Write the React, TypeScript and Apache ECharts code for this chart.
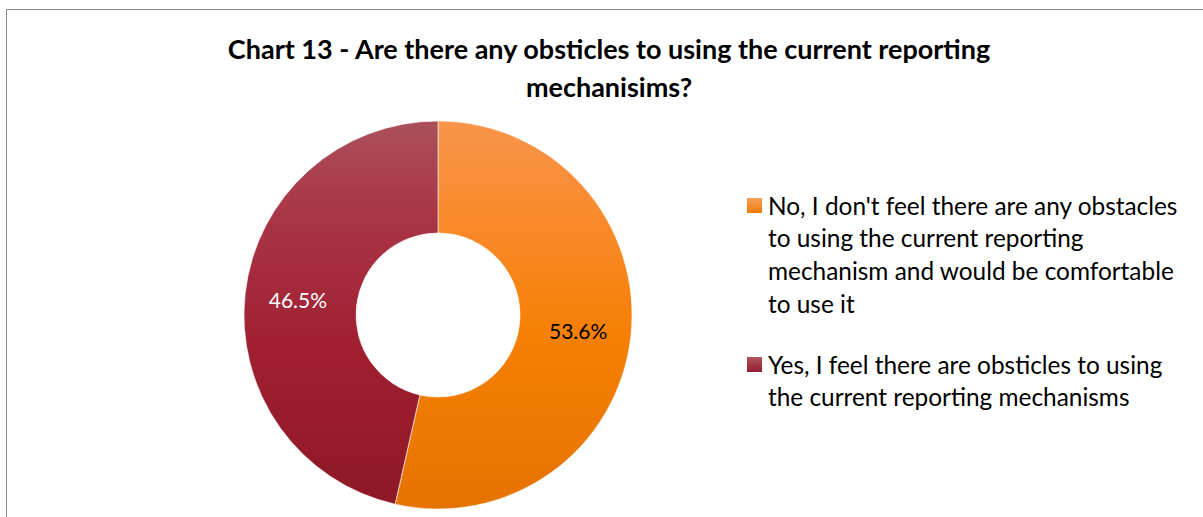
import React, { useEffect, useRef } from "react";
import * as echarts from "echarts";

const titleText = "Chart 13 - Are there any obsticles to using the current reporting\nmechanisims?";
const categories = [
  "No, I don't feel there are any obstacles to using the current reporting mechanism and would be comfortable to use it",
  "Yes, I feel there are obsticles to using the current reporting mechanisms",
];
const legendLines = [
  ["No, I don't feel there are any obstacles", "to using the current reporting", "mechanism and would be comfortable", "to use it"],
  ["Yes, I feel there are obsticles to using", "the current reporting mechanisms"],
];
const values = [53.6, 46.5];
const gradientStops = [
  [[0, "#F8944A"], [0.25, "#F88A2C"], [0.55, "#F68004"], [1, "#E67200"]],
  [[0, "#AA505A"], [0.25, "#A93546"], [0.6, "#A01F30"], [1, "#8E1826"]],
];
const labelColors = ["#000000", "#ffffff"];
const markerColors = [
  ["#F7A05A", "#F07B0A"],
  ["#B05560", "#951F2C"],
];

export default function App() {
  const ref = useRef<HTMLDivElement>(null);
  useEffect(() => {
    if (!ref.current) return;
    const chart = echarts.init(ref.current, undefined, { renderer: "svg" });
    const font = "Lato, 'Open Sans', sans-serif";
    const graphics: any[] = [
      {
        type: "rect",
        shape: { x: 6.5, y: 9.5, width: 1300, height: 600 },
        style: { fill: "none", stroke: "#8a8a8a", lineWidth: 1 },
        silent: true,
        z: -10,
      },
    ];
    const firstLineCenters = [205, 364];
    const lineH = 32.7;
    legendLines.forEach((lines, i) => {
      graphics.push({
        type: "rect",
        shape: { x: 747, y: firstLineCenters[i] - 7, width: 15, height: 15 },
        style: {
          fill: new echarts.graphic.LinearGradient(0, 0, 0, 1, [
            { offset: 0, color: markerColors[i][0] },
            { offset: 1, color: markerColors[i][1] },
          ]),
        },
      });
      lines.forEach((ln, j) => {
        graphics.push({
          type: "text",
          x: 768,
          y: firstLineCenters[i] + j * lineH,
          style: {
            text: ln,
            font: `24.4px ${font}`,
            fill: "#000",
            textVerticalAlign: "middle",
            textAlign: "left",
          },
        });
      });
    });
    chart.setOption({
      animation: false,
      title: {
        text: titleText,
        left: 609,
        top: 29,
        padding: 0,
        textAlign: "center",
        textStyle: { fontFamily: font, fontSize: 27, fontWeight: "bold", color: "#000", lineHeight: 38 },
      },
      graphic: graphics,
      series: [
        {
          type: "pie",
          center: [438, 315],
          radius: [82, 194],
          startAngle: 90,
          clockwise: true,
          label: {
            show: true,
            position: "inside",
            formatter: (p: any) => `${p.value.toFixed(1)}%`,
            fontFamily: font,
            fontSize: 21,
          },
          labelLine: { show: false },
          itemStyle: { borderColor: "#ffffff", borderWidth: 0.6 },
          data: categories.map((c, i) => ({
            name: c,
            value: values[i],
            label: { color: labelColors[i] },
            itemStyle: {
              color: new echarts.graphic.LinearGradient(
                0, 0, 0, 1,
                gradientStops[i].map((s) => ({ offset: s[0] as number, color: s[1] as string }))
              ),
            },
          })),
        },
      ],
    });
    return () => chart.dispose();
  }, []);
  return (
    <div
      ref={ref}
      style={{ position: "fixed", left: 0, top: 0, width: 1203, height: 517, background: "#fff" }}
    />
  );
}
